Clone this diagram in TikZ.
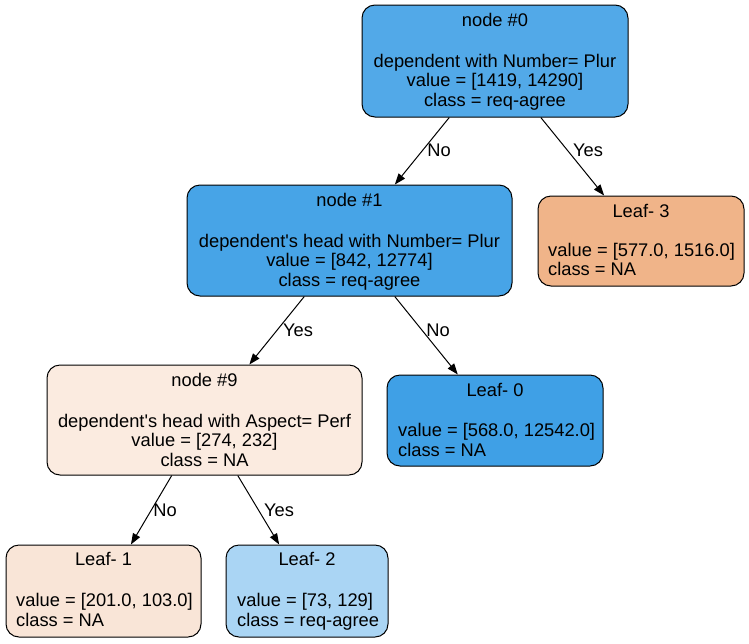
\documentclass[tikz,border=0pt]{standalone}
\usepackage{fontspec}
\setmainfont{Liberation Sans}
\usetikzlibrary{arrows.meta}
\definecolor{c0}{HTML}{52A9E8}
\definecolor{c1}{HTML}{47A4E7}
\definecolor{c9}{HTML}{FBEBE0}
\definecolor{cl0}{HTML}{3FA0E6}
\definecolor{cl1}{HTML}{F9E5D7}
\definecolor{cl2}{HTML}{AAD5F4}
\definecolor{cl3}{HTML}{F0B489}
\tikzset{
  box/.style={draw=black, line width=1pt, rounded corners=13pt, inner sep=0pt},
  txt/.style={font=\fontsize{18.3}{20}\selectfont, inner sep=0pt, anchor=base},
  ltxt/.style={font=\fontsize{18.3}{20}\selectfont, inner sep=0pt, anchor=base west},
  edge/.style={draw=black, line width=1pt, -{Triangle[length=11pt,width=8pt]}},
  elab/.style={font=\fontsize{18.3}{20}\selectfont, inner sep=0pt}
}
\begin{document}
\begin{tikzpicture}[x=1pt,y=-1pt]
\useasboundingbox[fill=white] (0,0) rectangle (749,643);
% boxes
\node[box, fill=c0, minimum width=266pt, minimum height=112pt] (n0) at (495,61) {};
\node[box, fill=cl3, minimum width=206pt, minimum height=90pt] (l3) at (641,241) {};
\node[box, fill=c1, minimum width=325pt, minimum height=111pt] (n1) at (349.5,240.5) {};
\node[box, fill=c9, minimum width=315pt, minimum height=110pt] (n9) at (204.5,420) {};
\node[box, fill=cl0, minimum width=216pt, minimum height=91pt] (l0) at (495,420.5) {};
\node[box, fill=cl1, minimum width=195pt, minimum height=92pt] (l1) at (103.5,591) {};
\node[box, fill=cl2, minimum width=162pt, minimum height=92pt] (l2) at (307,591) {};
% texts node 0
\node[txt] (t0a) at (495,26) {node \#0};
\node[txt] (t0b) at (495,67) {dependent with Number= Plur};
\node[txt] (t0c) at (495,86) {value = [1419, 14290]};
\node[txt] (t0d) at (495,106) {class = req-agree};
% leaf 3
\node[txt] (t3a) at (641,217) {Leaf- 3};
\node[ltxt] (t3b) at (548,256) {value = [577.0, 1516.0]};
\node[ltxt] (t3c) at (548,275) {class = NA};
% node 1
\node[txt] (t1a) at (349.5,206) {node \#1};
\node[txt] (t1b) at (349.5,247) {dependent\textquotesingle s head with Number= Plur};
\node[txt] (t1c) at (349.5,266) {value = [842, 12774]};
\node[txt] (t1d) at (349.5,286) {class = req-agree};
% node 9
\node[txt] (t9a) at (204.5,386) {node \#9};
\node[txt] (t9b) at (204.5,427) {dependent\textquotesingle s head with Aspect= Perf};
\node[txt] (t9c) at (204.5,446) {value = [274, 232]};
\node[txt] (t9d) at (204.5,466) {class = NA};
% leaf 0
\node[txt] (t00a) at (495,396) {Leaf- 0};
\node[ltxt] (t00b) at (398,436) {value = [568.0, 12542.0]};
\node[ltxt] (t00c) at (398,456) {class = NA};
% leaf 1
\node[txt] (t11a) at (103.5,565) {Leaf- 1};
\node[ltxt] (t11b) at (16,606) {value = [201.0, 103.0]};
\node[ltxt] (t11c) at (16,626) {class = NA};
% leaf 2
\node[txt] (t22a) at (307,565) {Leaf- 2};
\node[ltxt] (t22b) at (237,606) {value = [73, 129]};
\node[ltxt] (t22c) at (237,626) {class = req-agree};
% edges
\draw[edge] (n0) -- (n1);
\draw[edge] (n0) -- (l3);
\draw[edge] (n1) -- (n9);
\draw[edge] (n1) -- (l0);
\draw[edge] (n9) -- (l1);
\draw[edge] (n9) -- (l2);
% edge labels
\node[elab] (e1) at (439,150) {No};
\node[elab] (e2) at (588,150) {Yes};
\node[elab] (e3) at (298,330) {Yes};
\node[elab] (e4) at (438,330) {No};
\node[elab] (e5) at (165,510) {No};
\node[elab] (e6) at (279,510) {Yes};
\end{tikzpicture}
\end{document}
